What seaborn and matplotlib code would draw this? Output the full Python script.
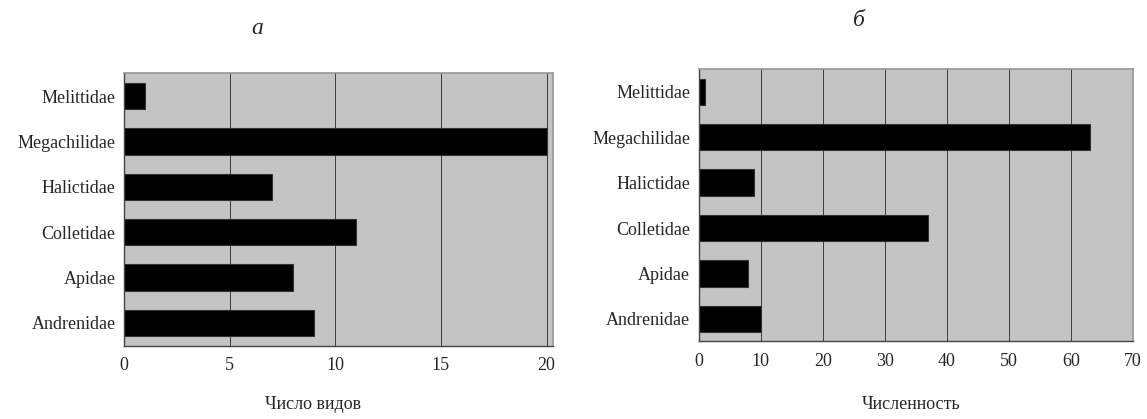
import matplotlib
matplotlib.use("Agg")
import matplotlib.pyplot as plt
import seaborn as sns
import pandas as pd

# families, top to bottom as in the figure
families = ["Melittidae", "Megachilidae", "Halictidae", "Colletidae", "Apidae", "Andrenidae"]
species_count = [1, 20, 7, 11, 8, 9]       # а: Число видов
abundance = [1, 63, 9, 37, 8, 10]          # б: Численность

sns.set_theme(style="white")
plt.rcParams["font.family"] = ["Liberation Serif", "DejaVu Serif"]

fig = plt.figure(figsize=(11.47, 4.19), dpi=100)
ax1 = fig.add_axes([0.108, 0.175, 0.374, 0.65])
ax2 = fig.add_axes([0.609, 0.185, 0.379, 0.65])

panels = [
    (ax1, species_count, "Число видов", "а", 20.3, 5, 0.44, -0.185, 0.31, 1.165),
    (ax2, abundance, "Численность", "б", 70, 10, 0.49, -0.2, 0.37, 1.18),
]

for ax, vals, xlab, letter, xmax, step, lab_x, lab_y, title_x, title_y in panels:
    df = pd.DataFrame({"family": families, "value": vals})
    sns.barplot(data=df, x="value", y="family", orient="h", color="black",
                width=0.58, edgecolor="#333333", linewidth=0.8, ax=ax)
    ax.set_facecolor("#c4c4c4")
    ax.set_xlim(0, xmax)
    ticks = list(range(0, int(xmax) + 1, step))
    ax.set_xticks(ticks)
    ax.set_xticklabels([str(t) for t in ticks], fontsize=13)
    for t in ticks[1:]:
        if t < xmax:
            ax.axvline(t, color="#3a3a3a", linewidth=0.7, zorder=0)
    ax.set_ylabel("")
    ax.set_xlabel(xlab, fontsize=13)
    ax.xaxis.set_label_coords(lab_x, lab_y)
    ax.tick_params(axis="y", labelsize=13, length=0, pad=6)
    ax.tick_params(axis="x", length=0, pad=8)
    for s in ["top", "right"]:
        ax.spines[s].set_color("#999999")
    for s in ["left", "bottom"]:
        ax.spines[s].set_color("#444444")
        ax.spines[s].set_linewidth(1.0)
    ax.text(title_x, title_y, letter, transform=ax.transAxes, fontsize=17,
            style="italic", ha="center", va="center")

fig.savefig("out.png", dpi=100)
